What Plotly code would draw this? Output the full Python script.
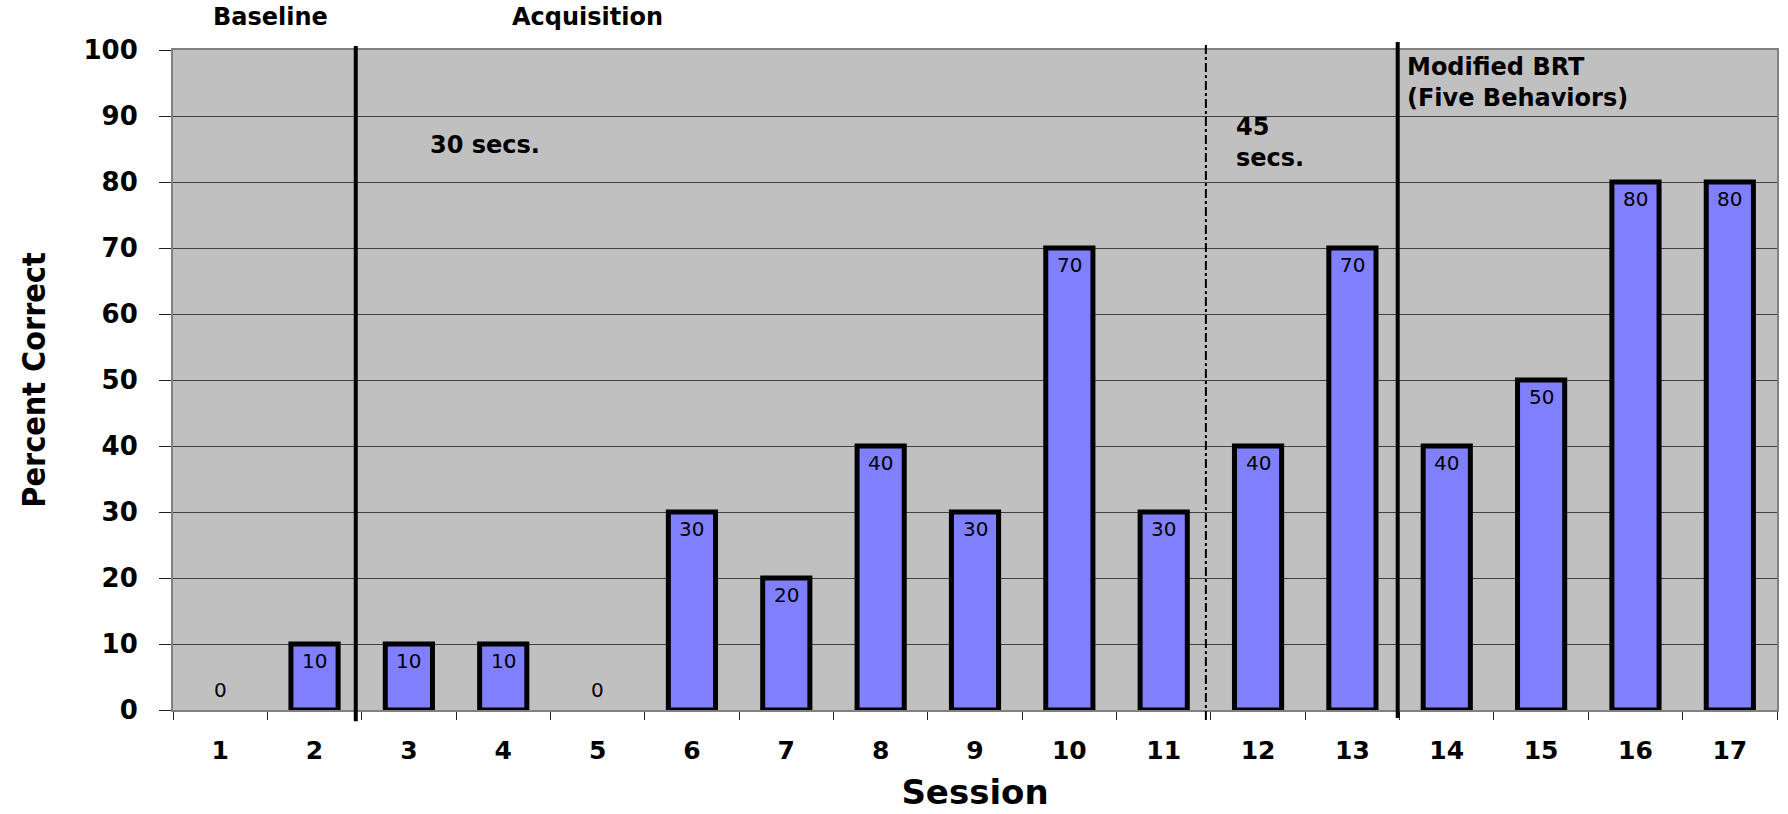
import plotly.graph_objects as go

# Session numbers and percent-correct scores
sessions = [str(s) for s in range(1, 18)]
percent_correct = [0, 10, 10, 10, 0, 30, 20, 40, 30, 70, 30, 40, 70, 40, 50, 80, 80]

y_ticks = list(range(0, 101, 10))

BOLD = dict(family="DejaVu Sans", color="black", weight="bold")

fig = go.Figure()
fig.add_trace(go.Bar(
    x=sessions,
    y=percent_correct,
    width=0.5,
    marker=dict(color="#8080FF",
                # empty sessions get no outline
                line=dict(color="black", width=[5 if v > 0 else 0 for v in percent_correct])),
    hoverinfo="x+y",
))

# value labels: just inside the top of each bar, lifted above the axis for zeros
for i, v in enumerate(percent_correct):
    fig.add_annotation(
        x=i, y=v, text=str(v), showarrow=False,
        xref="x", yref="y", yanchor="middle",
        yshift=20 if v == 0 else -17,
        font=dict(family="DejaVu Sans", size=20, color="black"),
    )

# phase-change lines (category-index positions)
def phase_line(xpos, y0, y1, width, dash):
    fig.add_shape(type="line", xref="x", yref="paper",
                  x0=xpos, x1=xpos, y0=y0, y1=y1,
                  line=dict(color="black", width=width, dash=dash), layer="above")

phase_line(1.437, -0.017, 1.006, 4, "solid")
phase_line(10.447, -0.015, 1.012, 2, "dashdot")
phase_line(12.48, -0.012, 1.012, 4, "solid")

# phase titles and condition notes
def note(text, x, y, xanchor, yref="y", size=24, align="left"):
    fig.add_annotation(text=text, x=x, y=y, xref="x", yref=yref,
                       xanchor=xanchor, yanchor="middle", align=align,
                       showarrow=False, font=dict(size=size, **BOLD))

note("Baseline", 0.53, 1.05, "center", yref="paper")
note("Acquisition", 3.89, 1.05, "center", yref="paper")
note("30 secs.", 2.2, 85.6, "left")
note("45<br>secs.", 10.75, 86.0, "left")
note("Modified BRT<br>(Five Behaviors)", 12.56, 95.1, "left")

fig.update_layout(
    width=1788, height=814,
    margin=dict(l=173, r=9, t=50, b=102),
    paper_bgcolor="white",
    plot_bgcolor="#C0C0C0",
    showlegend=False,
    xaxis=dict(
        type="category",
        tickson="boundaries",
        ticks="outside", ticklen=8, tickcolor="#202020", tickwidth=1,
        showline=True, linecolor="#808080", linewidth=2, mirror=True,
        showgrid=False,
        tickfont=dict(size=25, **BOLD),
        ticklabelstandoff=17,
        title=dict(text="Session", font=dict(size=34, **BOLD), standoff=16),
        range=[-0.5, 16.5],
    ),
    yaxis=dict(
        range=[0, 100],
        tickvals=y_ticks,
        ticks="outside", ticklen=12, tickcolor="#202020", tickwidth=1,
        showline=True, linecolor="#808080", linewidth=2, mirror=True,
        showgrid=True, gridcolor="#404040", gridwidth=1,
        zeroline=False,
        tickfont=dict(size=26, **BOLD),
        ticklabelstandoff=16,
        title=dict(text="Percent Correct",
                   font=dict(family="Liberation Sans Narrow, DejaVu Sans Condensed, DejaVu Sans",
                             size=32, color="black", weight="bold"),
                   standoff=28),
    ),
)

fig.write_html("out.html")
